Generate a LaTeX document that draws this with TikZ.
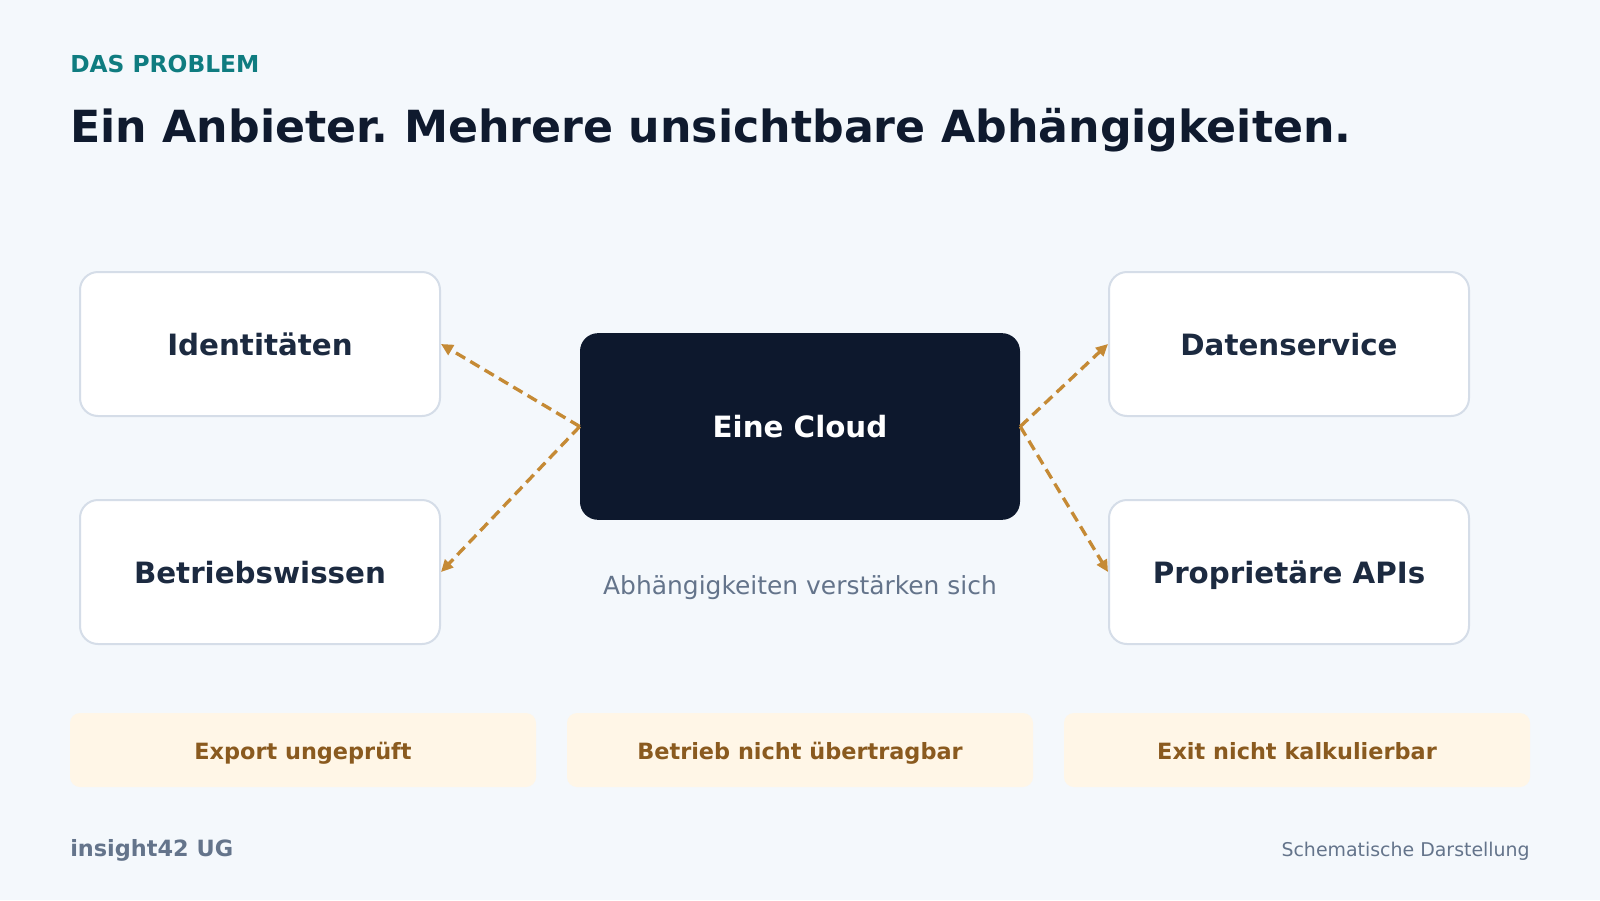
\documentclass[tikz,border=0pt]{standalone}
\usepackage{fontspec}
\setmainfont{DejaVu Sans}
\usetikzlibrary{arrows.meta}
\frenchspacing
\definecolor{bg}{HTML}{F4F8FC}
\definecolor{teal}{HTML}{0F7C80}
\definecolor{titlec}{HTML}{0F1A2E}
\definecolor{boxborder}{HTML}{D5DDE8}
\definecolor{nodetext}{HTML}{1C2A40}
\definecolor{cloudfill}{HTML}{0D182D}
\definecolor{subc}{HTML}{64748B}
\definecolor{barfill}{HTML}{FFF6E7}
\definecolor{bartext}{HTML}{8A5A1F}
\definecolor{arrowc}{HTML}{C58A35}
\newcommand{\fsz}[1]{\fontsize{#1}{#1}\selectfont}
\tikzset{
  sidebox/.style={draw=boxborder, line width=1.5, fill=white, rounded corners=13.5pt,
    minimum width=270pt, minimum height=108pt, text=nodetext, font=\fsz{22pt}\bfseries, inner sep=0pt,
    text height=18pt, text depth=1.5pt},
  cloudbox/.style={fill=cloudfill, rounded corners=13.5pt, minimum width=330pt, minimum height=140pt,
    text=white, font=\fsz{22pt}\bfseries, inner sep=0pt, text height=17pt, text depth=1.25pt},
  bar/.style={fill=barfill, rounded corners=7.5pt, minimum width=349.5pt, minimum height=55.5pt,
    text=bartext, font=\fsz{16.8pt}\bfseries, inner sep=0pt, text height=15pt, text depth=1.5pt},
  dep/.style={draw=arrowc, line width=2.5pt, dash pattern=on 8pt off 4.5pt,
    -{Triangle[length=9pt,width=8.5pt]}}
}
\begin{document}
\begin{tikzpicture}[x=0.75pt,y=-0.75pt]
\fill[bg] (0,0) rectangle (1600,900);
\useasboundingbox (0,0) rectangle (1600,900);
\node[anchor=base west, text=teal, font=\fsz{17.5pt}\bfseries, inner sep=0pt] (kicker) at (70,72) {DAS PROBLEM};
\node[anchor=base west, text=titlec, font=\fsz{33.2pt}\bfseries, inner sep=0pt] (title) at (70,142) {Ein Anbieter. Mehrere unsichtbare Abhängigkeiten.};

\node[sidebox] (ident) at (260,344) {Identitäten};
\node[sidebox] (betr) at (260,572) {Betriebswissen};
\node[sidebox] (daten) at (1289,344) {Datenservice};
\node[sidebox] (apis) at (1289,572) {Proprietäre APIs};
\node[cloudbox] (cloud) at (800,426.5) {Eine Cloud};

\node[anchor=base, text=subc, font=\fsz{18.7pt}, inner sep=0pt] (sub) at (800,594) {Abhängigkeiten verstärken sich};

\draw[dep] (cloud.west) -- (ident.east);
\draw[dep] (cloud.west) -- (betr.east);
\draw[dep] (cloud.east) -- (daten.west);
\draw[dep] (cloud.east) -- (apis.west);

\node[bar] (b1) at (303,750) {Export ungeprüft};
\node[bar] (b2) at (800,750) {Betrieb nicht übertragbar};
\node[bar] (b3) at (1297,750) {Exit nicht kalkulierbar};

\node[anchor=base west, text=subc, font=\fsz{16.8pt}\bfseries, inner sep=0pt] (brand) at (70,856) {insight42 UG};
\node[anchor=base east, text=subc, font=\fsz{14.2pt}, inner sep=0pt] (note) at (1530,856) {Schematische Darstellung};
\end{tikzpicture}
\end{document}
